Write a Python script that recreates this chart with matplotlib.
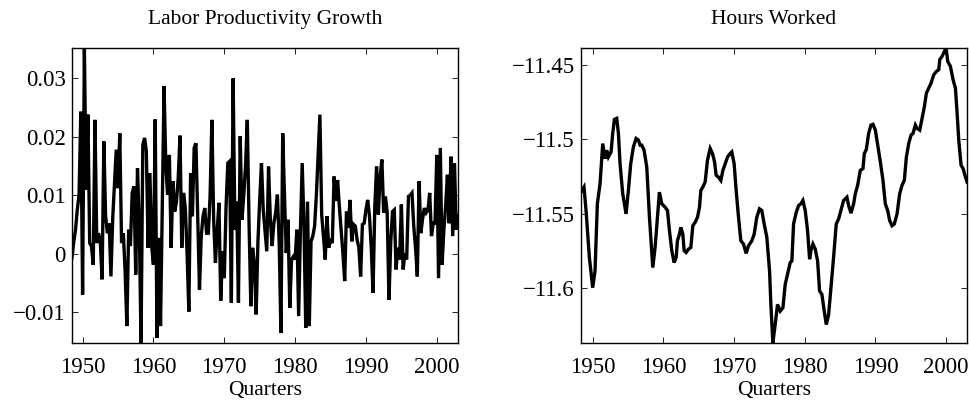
import numpy as np
import matplotlib
matplotlib.use("Agg")
import matplotlib.pyplot as plt
from matplotlib.ticker import FixedLocator, FuncFormatter

plt.rcParams['font.family'] = ['Liberation Serif', 'DejaVu Serif']
plt.rcParams['axes.unicode_minus'] = True

# quarterly labor productivity growth, 1948:3 .. 2003:1
growth = [
    -0.0007, 0.0020, 0.0041, 0.0075, 0.0101, 0.0243, -0.0070, 0.0352, 0.0109, 0.0238,
    0.0018, 0.0013, -0.0019, 0.0229, 0.0018, 0.0035, 0.0020, -0.0044, 0.0192, 0.0064,
    0.0035, 0.0052, -0.0039, 0.0060, 0.0120, 0.0178, 0.0112, 0.0206, 0.0018, 0.0035,
    -0.0030, -0.0124, 0.0041, 0.0013, 0.0104, 0.0115, -0.0036, 0.0146, 0.0050, -0.0153,
    0.0186, 0.0198, 0.0175, 0.0010, 0.0138, 0.0013, -0.0019, 0.0230, -0.0144, 0.0027,
    -0.0124, 0.0080, 0.0287, 0.0150, 0.0101, 0.0169, 0.0010, 0.0124, 0.0072, 0.0089,
    0.0130, 0.0202, 0.0010, 0.0104, 0.0078, 0.0000, -0.0099, 0.0138, 0.0064, 0.0181,
    0.0189, 0.0064, -0.0062, 0.0030, 0.0064, 0.0078, 0.0035, 0.0035, 0.0100, 0.0229,
    0.0058, -0.0016, 0.0040, 0.0087, -0.0081, 0.0004, -0.0042, 0.0080, 0.0155, 0.0158,
    -0.0084, 0.0300, 0.0041, 0.0089, -0.0084, 0.0201, 0.0058, 0.0100, 0.0150, 0.0229,
    0.0050, -0.0090, 0.0010, -0.0016, -0.0104, 0.0020, 0.0092, 0.0155, 0.0075, 0.0040,
    0.0004, 0.0149, 0.0060, 0.0013, 0.0052, 0.0070, 0.0101, 0.0020, -0.0136, 0.0206,
    0.0100, 0.0001, 0.0058, -0.0093, -0.0010, -0.0005, -0.0010, 0.0041, -0.0107, 0.0040,
    0.0155, 0.0050, -0.0127, 0.0089, -0.0124, 0.0021, 0.0030, 0.0047, 0.0100, 0.0170,
    0.0238, 0.0067, 0.0030, -0.0010, 0.0064, 0.0010, 0.0025, 0.0018, 0.0132, 0.0090,
    0.0126, 0.0080, 0.0041, 0.0000, -0.0047, 0.0072, 0.0044, 0.0092, 0.0021, 0.0050,
    0.0047, 0.0024, 0.0010, -0.0039, 0.0050, 0.0052, 0.0075, 0.0092, 0.0064, 0.0010,
    -0.0067, 0.0080, 0.0149, 0.0067, 0.0132, 0.0161, 0.0070, 0.0098, 0.0070, -0.0079,
    0.0020, 0.0072, 0.0075, -0.0027, 0.0010, -0.0010, 0.0084, -0.0027, 0.0000, -0.0010,
    0.0098, 0.0100, 0.0104, 0.0047, 0.0010, -0.0039, 0.0124, 0.0035, 0.0060, 0.0078,
    0.0070, 0.0075, 0.0104, 0.0030, 0.0052, 0.0052, 0.0169, -0.0042, 0.0181, -0.0019,
    0.0041, 0.0081, 0.0135, 0.0052, 0.0166, 0.0030, 0.0155, 0.0041, 0.0064,
]
growth_start = 1948.5

# log hours worked, read at these dates
hours_years = [
    1948.35, 1948.77, 1949.06, 1949.53, 1950.00, 1950.33, 1950.66, 1951.04, 1951.42, 1951.75,
    1951.98, 1952.22, 1952.60, 1952.83, 1953.07, 1953.40, 1953.64, 1953.87, 1954.25, 1954.72,
    1955.05, 1955.38, 1955.76, 1956.14, 1956.47, 1956.71, 1956.94, 1957.27, 1957.65, 1958.03,
    1958.50, 1958.83, 1959.16, 1959.44, 1959.77, 1960.25, 1960.58, 1960.86, 1961.19, 1961.52,
    1961.81, 1961.99, 1962.28, 1962.47, 1962.75, 1962.94, 1963.22, 1963.55, 1963.88, 1964.17,
    1964.50, 1964.83, 1965.11, 1965.30, 1965.58, 1965.91, 1966.24, 1966.62, 1966.95, 1967.24,
    1967.47, 1967.80, 1968.13, 1968.42, 1968.75, 1969.08, 1969.45, 1969.68, 1970.01, 1970.30,
    1970.63, 1970.96, 1971.34, 1971.71, 1972.04, 1972.52, 1972.85, 1973.22, 1973.60, 1973.93,
    1974.26, 1974.64, 1975.02, 1975.21, 1975.49, 1975.82, 1976.15, 1976.53, 1976.91, 1977.24,
    1977.57, 1977.95, 1978.18, 1978.42, 1978.80, 1979.13, 1979.46, 1979.74, 1980.07, 1980.40,
    1980.69, 1980.87, 1981.16, 1981.49, 1981.82, 1982.10, 1982.43, 1982.76, 1983.05, 1983.38,
    1983.71, 1984.08, 1984.46, 1984.79, 1985.12, 1985.50, 1985.97, 1986.21, 1986.54, 1986.92,
    1987.15, 1987.48, 1987.86, 1988.24, 1988.43, 1988.71, 1989.04, 1989.37, 1989.66, 1989.99,
    1990.32, 1990.70, 1991.07, 1991.40, 1991.73, 1992.02, 1992.35, 1992.68, 1993.06, 1993.43,
    1993.76, 1994.09, 1994.38, 1994.71, 1995.04, 1995.32, 1995.65, 1995.89, 1996.27, 1996.60,
    1996.93, 1997.21, 1997.54, 1997.87, 1998.25, 1998.63, 1998.96, 1999.10, 1999.43, 1999.76,
    2000.00, 2000.23, 2000.61, 2000.99, 2001.32, 2001.56, 2001.79, 2002.12, 2002.41, 2002.74,
    2002.97,
]
hours = [
    -11.5355, -11.5321, -11.5478, -11.5793, -11.5996, -11.5883, -11.5433, -11.5299, -11.5029, -11.5130,
    -11.5074, -11.5119, -11.5085, -11.4961, -11.4867, -11.4860, -11.4961, -11.5164, -11.5366, -11.5501,
    -11.5344, -11.5164, -11.5051, -11.4995, -11.5006, -11.5040, -11.5040, -11.5074, -11.5186, -11.5523,
    -11.5861, -11.5726, -11.5523, -11.5355, -11.5433, -11.5456, -11.5478, -11.5613, -11.5748, -11.5827,
    -11.5793, -11.5681, -11.5636, -11.5591, -11.5636, -11.5748, -11.5760, -11.5737, -11.5726, -11.5580,
    -11.5557, -11.5523, -11.5456, -11.5344, -11.5321, -11.5287, -11.5141, -11.5062, -11.5096, -11.5152,
    -11.5242, -11.5254, -11.5276, -11.5209, -11.5164, -11.5119, -11.5096, -11.5085, -11.5164, -11.5344,
    -11.5523, -11.5681, -11.5703, -11.5766, -11.5715, -11.5681, -11.5636, -11.5523, -11.5467, -11.5478,
    -11.5568, -11.5658, -11.5883, -11.6108, -11.6367, -11.6243, -11.6108, -11.6153, -11.6131, -11.5973,
    -11.5906, -11.5827, -11.5816, -11.5568, -11.5490, -11.5445, -11.5433, -11.5411, -11.5478, -11.5613,
    -11.5805, -11.5748, -11.5703, -11.5737, -11.5816, -11.6018, -11.6041, -11.6153, -11.6243, -11.6176,
    -11.5996, -11.5793, -11.5568, -11.5535, -11.5478, -11.5411, -11.5389, -11.5445, -11.5496, -11.5433,
    -11.5366, -11.5310, -11.5209, -11.5197, -11.5096, -11.5069, -11.4961, -11.4905, -11.4900, -11.4939,
    -11.5040, -11.5152, -11.5276, -11.5433, -11.5478, -11.5546, -11.5580, -11.5568, -11.5501, -11.5366,
    -11.5310, -11.5276, -11.5119, -11.5029, -11.4972, -11.4961, -11.4905, -11.4927, -11.4939, -11.4860,
    -11.4781, -11.4691, -11.4658, -11.4624, -11.4568, -11.4545, -11.4534, -11.4466, -11.4444, -11.4410,
    -11.4388, -11.4478, -11.4511, -11.4601, -11.4658, -11.4826, -11.5006, -11.5175, -11.5197, -11.5254,
    -11.5287,
]

year_ticks = [1950, 1960, 1970, 1980, 1990, 2000]
growth_ticks = [-0.01, 0, 0.01, 0.02, 0.03]
hours_ticks = [-11.6, -11.55, -11.5, -11.45]

growth_years = growth_start + 0.25 * np.arange(len(growth))

fig = plt.figure(figsize=(9.7, 4.01), dpi=100)
ax1 = fig.add_axes([0.0742, 0.1446, 0.398, 0.7357])
ax2 = fig.add_axes([0.599, 0.1446, 0.398, 0.7357])

fmt = FuncFormatter(lambda v, p: ('%g' % v).replace('-', '\u2212'))

for ax, x, y, ticks, title in [
    (ax1, growth_years, growth, growth_ticks, 'Labor Productivity Growth'),
    (ax2, hours_years, hours, hours_ticks, 'Hours Worked'),
]:
    ax.plot(x, y, color='black', lw=2.4, solid_joinstyle='miter')
    ax.set_xlim(x[0], x[-1])
    ax.set_ylim(min(y), max(y))
    ax.xaxis.set_major_locator(FixedLocator(year_ticks))
    ax.yaxis.set_major_locator(FixedLocator(ticks))
    ax.yaxis.set_major_formatter(fmt)
    ax.tick_params(direction='in', top=True, right=True, length=4, width=0.6,
                   labelsize=16.5)
    ax.tick_params(axis='x', pad=10)
    ax.tick_params(axis='y', pad=4.5)
    for s in ax.spines.values():
        s.set_linewidth(1.0)
    ax.set_title(title, fontsize=15.5, pad=17)
    ax.set_xlabel('Quarters', fontsize=15.5, labelpad=2)

fig.savefig('out.png', dpi=100)
